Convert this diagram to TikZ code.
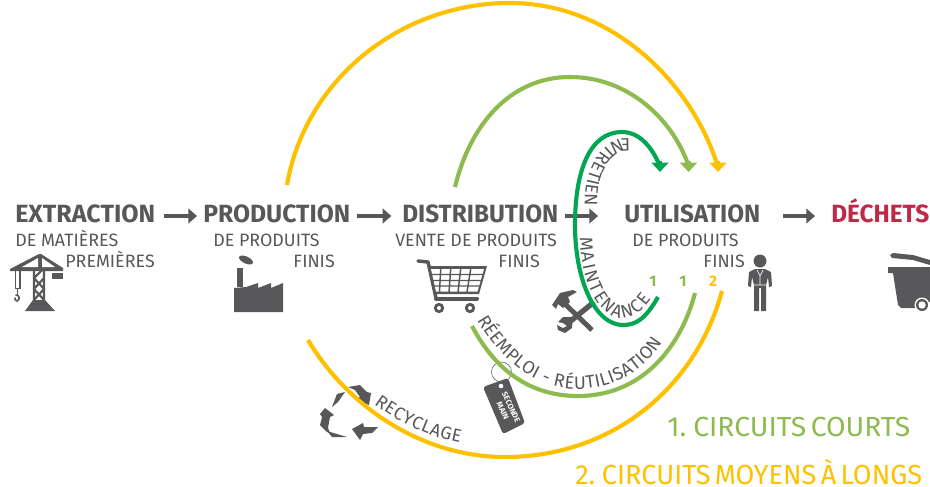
\documentclass[tikz,border=0pt]{standalone}
\usepackage{fontspec}
\usepackage{graphicx}
\setmainfont{Fira Sans}
\usetikzlibrary{arrows.meta,decorations.text,calc}
\definecolor{ink}{HTML}{58585A}
\definecolor{lime}{HTML}{8DBB4E}
\definecolor{amber}{HTML}{FFC000}
\definecolor{leaf}{HTML}{00A651}
\definecolor{wine}{HTML}{BE2A46}
\newcommand{\hdfont}{\fontsize{18.7pt}{20pt}\selectfont\bfseries}
\newcommand{\sbfont}{\fontsize{13.4pt}{15pt}\selectfont}
\newcommand{\cvfont}{\fontsize{13.5pt}{14pt}\selectfont}
\newcommand{\legendtext}[2]{\fontsize{20.7pt}{23pt}\selectfont\spaceskip=.16em\relax\resizebox{#1}{\height}{#2}}
\tikzset{
 head/.style={anchor=base west,inner sep=0pt,text=ink,font=\hdfont,text height=9pt,text depth=0pt},
 sub/.style={anchor=base west,inner sep=0pt,text=ink,font=\sbfont},
 subr/.style={anchor=base east,inner sep=0pt,text=ink,font=\sbfont},
 flow/.style={draw=ink,line width=2.3pt,-{Triangle[length=6.5pt,width=11pt]}},
 loopc/.style={line width=3.1pt,-{Triangle[length=7pt,width=12.5pt]}},
 plainc/.style={line width=3.1pt},
 icon/.style={fill=ink,draw=none},
 num/.style={font=\fontsize{11.5pt}{11.5pt}\selectfont\bfseries,inner sep=0pt},
 legend/.style={anchor=base west,inner sep=0pt},
}
\begin{document}
\begin{tikzpicture}[x=0.75pt,y=-0.75pt]
\useasboundingbox (0,0) rectangle (930,486);
% crane
\fill[icon] (25,311)--(33,300)--(45,300)--(55,311)--cycle;
\draw[ink,line width=1.6pt] (34,302)--(34,262) (44,302)--(44,262) (34,300)--(44,289)--(34,278)--(44,268) (44,300)--(34,289)--(44,278);
\fill[icon] (10,271)--(10,269)--(39,254)--(41,254)--(63,268)--(63,271)--cycle;
\fill[white] (22,267)--(38,258)--(38,267)--cycle (42,258)--(55,267)--(42,267)--cycle;
\fill[icon] (52,273) rectangle (63,279);
\draw[ink,line width=1pt] (15.5,271)--(15.5,288.5)--(20,288.5)--(20,271);
\draw[ink,line width=1.2pt,line cap=round] (17.5,289)--(17.5,295);
\draw[ink,line width=1.2pt,line cap=round] (16,295) .. controls (20,295) and (20,300) .. (17,301) .. controls (15,301) and (15,299) .. (15,298);
% factory
\fill[icon] (237,268) rectangle (243,287);
\fill[icon,rotate around={-25:(246,260)}] (246,260) ellipse (7.5 and 3.5);
\fill[icon] (234,312)--(234,288)--(246,287)--(258,283)--(258,288)--(271,283)--(271,288)--(283,283)--(283,312)--cycle;
% cart
\draw[ink,line width=2.6pt,line cap=round,line join=round] (418,261)--(428,262)--(436,298);
\draw[ink,line width=3pt,line cap=round] (436,298.5)--(477,298.5);
\fill[icon] (428,266)--(487,266)--(479,294)--(434,294)--cycle;
\fill[white] (431,269)--(484,269)--(477.5,291.5)--(436,291.5)--cycle;
\draw[ink,line width=1.1pt] (432,274.5)--(483,274.5) (433,280.5)--(481,280.5) (434.5,286)--(479,286)
 (440.7,269)--(439.5,292) (450.7,269)--(449,292) (460.7,269)--(458,292) (470.7,269)--(467,292);
\fill[icon] (439,308) circle (5.2) (470,308) circle (5.2);
\fill[white] (439,308) circle (2) (470,308) circle (2);
% tools
\draw[ink,line width=3.7pt] (565,304)--(592,330);
\fill[icon] (552,305)--(560,293)--(573,290)--(577,292)--(568,297)--(570,302)--(563,308)--(558,304)--(556,309)--cycle;
\draw[ink,line width=4pt] (594,302)--(567,324);
\fill[icon] (573,317)--(563,317)--(558,322)--(563,323)--(567,326)--(563,328)--(557,325)--(558,330)--(565,333)--(572,328)--cycle;
% person
\fill[icon] (760,261) circle (6.5);
\fill[icon] (755,269)--(765,269)--(771,272)--(772,286)--(769,287)--(768,277)--(766,285)--(766,311)--(761,311)--(761,288)--(759,288)--(759,311)--(754,311)--(754,285)--(752,277)--(751,287)--(748,286)--(749,272)--cycle;
\draw[white,line width=.5pt] (754,285)--(766,285) (757,270)--(760,276)--(763,270) (760,276)--(760,285);
% bin
\fill[icon] (890,255)--(893,253)--(913,255)--(930,260)--(930,265)--(913,260)--(892,258)--cycle;
\fill[icon] (888,267)--(930,267)--(930,302)--(916,308)--(901,308)--(898,305)--(893,273)--(888,273)--cycle;
\fill[white] (922,305) circle (7.5);
\fill[icon] (922,305) circle (6);
\fill[white] (922,305) circle (3.7);
% tag
\draw[ink,line width=.4pt] (501.5,372) circle (10);
\fill[icon,rounded corners=2pt] (483,387)--(508,378)--(525,423)--(503,434)--cycle;
\fill[white] (501,386) circle (2.3);
\node[rotate=-65,inner sep=0pt,text=white,align=center,font=\fontsize{5.9pt}{6.8pt}\selectfont\bfseries] (tagtext) at (507,409) {SECONDE\\MAIN};
% recycle
\fill[icon] (348,387)--(360,385)--(367,392)--(371,393)--(369,405)--(354,399)--(360,397)--(355,390)--cycle;
\fill[icon] (345,392)--(337,394)--(332,407)--(338,402)--cycle;
\fill[icon] (320,414)--(325,408)--(334,415)--(330,417)--(328,428)--(330,433)--(327,432)--(320,425)--(322,417)--cycle;
\fill[icon] (327,431)--(347,437)--(332,437)--cycle;
\fill[icon] (352,429)--(363,423)--(364,427)--(378,427)--(372,433)--(363,434)--(360,440)--cycle;
% labels
\node[head] (extraction) at (15,222) {\resizebox{105pt}{\height}{EXTRACTION}};
\node[head] (production) at (203,222) {\resizebox{110.2pt}{\height}{PRODUCTION}};
\node[head] (distribution) at (402,222) {\resizebox{117pt}{\height}{DISTRIBUTION}};
\node[head] (utilisation) at (624,222) {\resizebox{102pt}{\height}{UTILISATION}};
\node[head,text=wine] (dechets) at (831,222) {\resizebox{73.5pt}{\height}{DÉCHETS}};
\node[sub] (s1) at (15,246) {DE MATIÈRES};
\node[subr] (s1b) at (155,267) {PREMIÈRES};
\node[sub] (s2) at (213,246) {DE PRODUITS};
\node[subr] (s2b) at (335,267) {FINIS};
\node[sub] (s3) at (395,246) {VENTE DE PRODUITS};
\node[subr] (s3b) at (540,267) {FINIS};
\node[sub] (s4) at (632,246) {DE PRODUITS};
\node[subr] (s4b) at (745,267) {FINIS};
% flows
\draw[flow,shorten <=6pt,shorten >=4.5pt] (extraction.east) -- (production.west);
\draw[flow,shorten <=5pt,shorten >=8pt] (production.east) -- (distribution.west);
\draw[flow,shorten <=5pt,shorten >=19.5pt] (distribution.east) -- (utilisation.west);
\draw[flow,shorten <=16.5pt,shorten >=12pt] (utilisation.east) -- (dechets.west);
% curves
\coordinate (ya) at (287,185); \coordinate (yb) at (718,172);
\coordinate (ga) at (455,187); \coordinate (gb) at (688.5,172);
\coordinate (da) at (658,297); \coordinate (db) at (660,172);
\coordinate (ra) at (472,326); \coordinate (rb) at (695,293);
\coordinate (ca) at (308,340); \coordinate (cb) at (722,291);
\draw[plainc,amber] (ya) .. controls (305,80) and (400,3) .. (510,3) .. controls (610,3) and (690,80) .. (717,164);
\draw[loopc,amber] (718,161) -- (yb);
\draw[plainc,lime] (ga) .. controls (470,125) and (510,77) .. (570,77) .. controls (625,77) and (670,115) .. (688,164);
\draw[loopc,lime] (688.5,161) -- (gb);
\draw[plainc,leaf] (da) .. controls (645,320) and (635,325) .. (623,325) .. controls (595,325) and (575,280) .. (575,225) .. controls (575,170) and (590,132) .. (622,132) .. controls (640,132) and (652,148) .. (659,164);
\draw[loopc,leaf] (660,161) -- (db);
\draw[plainc,lime] (ra) .. controls (495,370) and (530,396) .. (578,396) .. controls (640,396) and (680,350) .. (rb);
\draw[plainc,amber] (ca) .. controls (350,410) and (425,457) .. (505,457) .. controls (610,457) and (695,390) .. (cb);
% curved labels
\path[decorate,decoration={text along path,text align=fit to path,text={|\cvfont\color{ink}|ENTRETIEN}}]
 (630,139) .. controls (610,135) and (583,160) .. (585,206);
\path[decorate,decoration={text along path,text align=fit to path,text={|\cvfont\color{ink}|MAINTENANCE}}]
 (580,237) .. controls (580,280) and (598,318) .. (622,318) .. controls (632,318) and (642,312) .. (651,299);
\path[decorate,decoration={text along path,text align=fit to path,text={|\cvfont\color{ink}|RÉEMPLOI - RÉUTILISATION}}]
 (477,320) .. controls (500,360) and (535,389) .. (578,389) .. controls (615,389) and (645,370) .. (662,342);
\path[decorate,decoration={text along path,text align=fit to path,text={|\cvfont\color{ink}|RECYCLAGE}}]
 (374,404) .. controls (400,423) and (430,437) .. (460,443);
% numbers
\node[num,text=lime] (n1) at (653,281) {1};
\node[num,text=lime] (n2) at (683,281) {1};
\node[num,text=amber] (n3) at (713,281) {2};
% legend
\node[legend,text=lime] (l1) at (667,436) {\legendtext{182.2pt}{1. CIRCUITS COURTS}};
\node[legend,text=amber] (l2) at (575,484) {\legendtext{260.2pt}{2. CIRCUITS MOYENS À LONGS}};
\end{tikzpicture}
\end{document}
